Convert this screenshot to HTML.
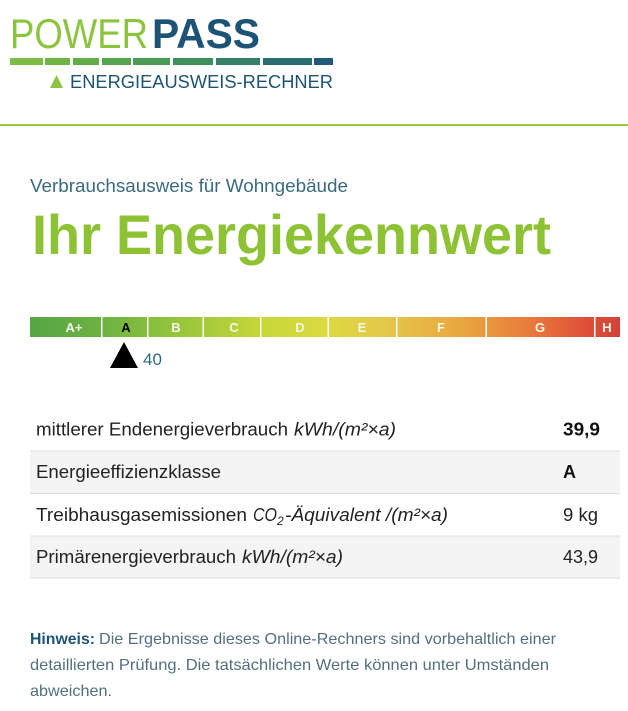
<!DOCTYPE html>
<html>
<head>
<meta charset="utf-8">
<style>
  html,body{margin:0;padding:0;background:#fff;}
  svg{display:block;}
  text{font-family:"Liberation Sans", Arial, sans-serif;}
</style>
</head>
<body>
<svg width="628" height="711" viewBox="0 0 628 711" xmlns="http://www.w3.org/2000/svg">
  <defs>
    <linearGradient id="eg" gradientUnits="userSpaceOnUse" x1="30" y1="0" x2="620" y2="0">
      <stop offset="0" stop-color="#55a546"/>
      <stop offset="0.12" stop-color="#6cb242"/>
      <stop offset="0.2" stop-color="#86be3d"/>
      <stop offset="0.3" stop-color="#a6cb3a"/>
      <stop offset="0.39" stop-color="#c6d738"/>
      <stop offset="0.5" stop-color="#dcda40"/>
      <stop offset="0.6" stop-color="#e4c849"/>
      <stop offset="0.74" stop-color="#e9a43f"/>
      <stop offset="0.85" stop-color="#e8793b"/>
      <stop offset="0.95" stop-color="#dc4d38"/>
      <stop offset="1" stop-color="#d2433a"/>
    </linearGradient>
  </defs>

  <!-- Logo -->
  <text x="10" y="48" font-size="42" fill="#8cc43f" textLength="138" lengthAdjust="spacingAndGlyphs">POWER</text>
  <text x="152" y="48" font-size="42" font-weight="bold" fill="#1d5475" textLength="108" lengthAdjust="spacingAndGlyphs">PASS</text>
  <rect x="10" y="58" width="33" height="7" fill="#7cbc42"/>
  <rect x="45" y="58" width="25" height="7" fill="#6fb544"/>
  <rect x="73" y="58" width="26" height="7" fill="#62ad4a"/>
  <rect x="102" y="58" width="29" height="7" fill="#55a54f"/>
  <rect x="133" y="58" width="37" height="7" fill="#4a9c55"/>
  <rect x="173" y="58" width="40" height="7" fill="#3f8f5e"/>
  <rect x="216" y="58" width="44" height="7" fill="#337f68"/>
  <rect x="263" y="58" width="49" height="7" fill="#286d72"/>
  <rect x="314" y="58" width="19" height="7" fill="#1f5b78"/>
  <polygon points="50,88 63,88 56.5,75" fill="#8cc43f"/>
  <text x="70" y="88" font-size="18" fill="#1d5475" textLength="263" lengthAdjust="spacingAndGlyphs">ENERGIEAUSWEIS-RECHNER</text>

  <rect x="0" y="124" width="628" height="2" fill="#9cc540"/>

  <!-- Headings -->
  <text x="30" y="192" font-size="18" fill="#3a6a7e" textLength="318" lengthAdjust="spacingAndGlyphs">Verbrauchsausweis für Wohngebäude</text>
  <text x="32" y="254" font-size="56" font-weight="bold" fill="#8cc234" textLength="519" lengthAdjust="spacingAndGlyphs">Ihr Energiekennwert</text>

  <!-- Energy bar -->
  <rect x="30" y="317" width="590" height="20" fill="url(#eg)"/>
  <g fill="#ffffff">
    <rect x="101" y="317" width="1.5" height="20"/>
    <rect x="147" y="317" width="1.5" height="20"/>
    <rect x="202.5" y="317" width="1.5" height="20"/>
    <rect x="260" y="317" width="1.5" height="20"/>
    <rect x="327.5" y="317" width="1.5" height="20"/>
    <rect x="396" y="317" width="1.5" height="20"/>
    <rect x="485.5" y="317" width="1.5" height="20"/>
    <rect x="594" y="317" width="1.5" height="20"/>
  </g>
  <g font-size="13" font-weight="bold" text-anchor="middle" fill="#f4f7e8">
    <text x="74" y="332">A+</text>
    <text x="126" y="332" fill="#000000">A</text>
    <text x="176" y="332">B</text>
    <text x="234" y="332">C</text>
    <text x="300" y="332">D</text>
    <text x="362" y="332">E</text>
    <text x="441" y="332">F</text>
    <text x="540" y="332">G</text>
    <text x="607" y="332">H</text>
  </g>
  <polygon points="124,342 110,368 138,368" fill="#000000"/>
  <text x="143" y="365" font-size="17" fill="#2e6b82">40</text>

  <!-- Table -->
  <rect x="30" y="451" width="590" height="42" fill="#f4f4f4"/>
  <rect x="30" y="536" width="590" height="42" fill="#f4f4f4"/>
  <g fill="#dedede">
    <rect x="30" y="450.5" width="590" height="1"/>
    <rect x="30" y="493" width="590" height="1"/>
    <rect x="30" y="535.5" width="590" height="1"/>
    <rect x="30" y="577.5" width="590" height="1"/>
  </g>
  <g font-size="18" fill="#222222">
    <text x="36" y="435.5" textLength="252" lengthAdjust="spacingAndGlyphs">mittlerer Endenergieverbrauch</text>
    <text x="294" y="435.5" font-style="italic" textLength="102" lengthAdjust="spacingAndGlyphs">kWh/(m²×a)</text>
    <text x="563" y="435.5" font-weight="bold" fill="#111" textLength="37" lengthAdjust="spacingAndGlyphs">39,9</text>

    <text x="36" y="478" textLength="185" lengthAdjust="spacingAndGlyphs">Energieeffizienzklasse</text>
    <text x="563" y="478" font-weight="bold" fill="#111">A</text>

    <text x="36" y="521" textLength="211" lengthAdjust="spacingAndGlyphs">Treibhausgasemissionen</text>
    <text x="253" y="521" font-style="italic" textLength="24" lengthAdjust="spacingAndGlyphs">CO</text>
    <text x="277" y="525" font-style="italic" font-size="12">2</text>
    <text x="285" y="521" font-style="italic" textLength="163" lengthAdjust="spacingAndGlyphs">-Äquivalent /(m²×a)</text>
    <text x="563" y="521" textLength="35" lengthAdjust="spacingAndGlyphs">9 kg</text>

    <text x="36" y="563" textLength="200" lengthAdjust="spacingAndGlyphs">Primärenergieverbrauch</text>
    <text x="242" y="563" font-style="italic" textLength="101" lengthAdjust="spacingAndGlyphs">kWh/(m²×a)</text>
    <text x="563" y="563" textLength="35" lengthAdjust="spacingAndGlyphs">43,9</text>
  </g>

  <!-- Note -->
  <g font-size="16" fill="#52707d">
    <text x="30" y="644" font-weight="bold" fill="#1d5475" textLength="65" lengthAdjust="spacingAndGlyphs">Hinweis:</text>
    <text x="99" y="644" textLength="457" lengthAdjust="spacingAndGlyphs">Die Ergebnisse dieses Online-Rechners sind vorbehaltlich einer</text>
    <text x="30" y="670" textLength="519" lengthAdjust="spacingAndGlyphs">detaillierten Prüfung. Die tatsächlichen Werte können unter Umständen</text>
    <text x="30" y="696" textLength="82" lengthAdjust="spacingAndGlyphs">abweichen.</text>
  </g>
</svg>
</body>
</html>
